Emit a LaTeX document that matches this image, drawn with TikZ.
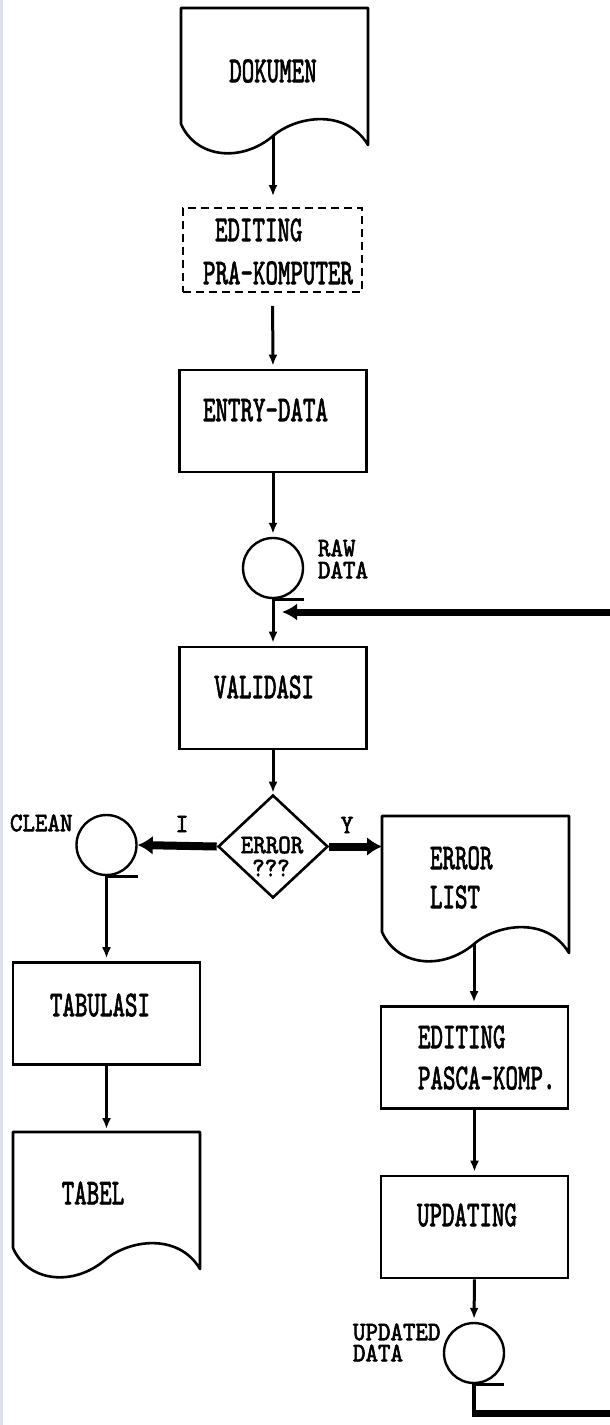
\documentclass[tikz,border=0pt]{standalone}
\usepackage{graphicx}
\usepackage{fontspec}
\usetikzlibrary{arrows.meta,shapes.geometric}
\newfontfamily\dotf{lmmono10-regular.otf}[FakeBold=2.5]
\newcommand{\BT}[1]{\scalebox{1}[1.52]{\dotf\fontsize{23.8}{26}\selectfont #1}}
\newcommand{\ST}[1]{\scalebox{1}[1.12]{\dotf\fontsize{23.8}{26}\selectfont #1}}
\definecolor{stripcol}{RGB}{220,224,242}
\tikzset{
  proc/.style={draw, line width=2.6pt, minimum width=187pt, minimum height=102pt, inner sep=0pt},
  dashbox/.style={draw, line width=1.8pt, dash pattern=on 8pt off 5pt, minimum width=179pt, minimum height=84pt, inner sep=0pt},
  store/.style={draw, circle, line width=2.4pt, minimum size=60pt, inner sep=0pt},
  decision/.style={draw, diamond, line width=2.6pt, minimum width=110pt, minimum height=103pt, inner sep=0pt},
  txt/.style={inner sep=0pt, outer sep=0pt},
  conn/.style={line width=3pt, -{Latex[length=11pt,width=9pt]}, shorten >=3pt},
  fatarrow/.style={line width=8pt, -{Latex[length=15pt,width=19pt]}},
  fbline/.style={line width=7pt},
  fbarrow/.style={line width=7pt, -{Latex[length=15pt,width=17pt]}},
  tick/.style={line width=2.6pt},
  docsym/.pic={
    \draw[line width=2.6pt, line join=round] (187,0) -- (0,0) -- (0,116)
      .. controls (15,150) and (60,155) .. (92,128)
      .. controls (115,108) and (165,100) .. (187,137) -- cycle;
    \coordinate (-out) at (92,128);
    \coordinate (-nw) at (0,0);
  }
}
\begin{document}
\begin{tikzpicture}[x=1pt,y=-1pt]
\useasboundingbox (0,0) rectangle (610,1425);
\fill[stripcol] (0,0) rectangle (3,1425);

% shapes
\pic (dk) at (181,8) {docsym};
\node[dashbox] (ed1) at (272.5,250) {};
\node[proc] (entry) at (273,421) {};
\node[store] (raw) at (273,568) {};
\node[proc] (val) at (273,698) {};
\node[decision] (dia) at (273,846.5) {};
\node[store] (clean) at (106.5,845) {};
\pic (el) at (382,816) {docsym};
\node[proc] (tab) at (106.5,1013.5) {};
\pic (tb) at (13,1132) {docsym};
\node[proc] (pk) at (474.5,1057.5) {};
\node[proc] (upd) at (474.5,1227) {};
\node[store] (ud) at (474,1353) {};

\coordinate (fbT) at (610,612);
\coordinate (fbB) at (610,1413);

% ticks of the tape symbols
\draw[tick] (raw.south) -- ++(31,0);
\draw[tick] (clean.south) -- ++(31,0);
\draw[tick] (ud.south) -- ++(30,0);

% texts
\node[txt] (tDok) at (273,71) {\BT{DOKUMEN}};
\node[txt,anchor=west] (tEd1) at (215,230) {\BT{EDITING}};
\node[txt,anchor=west] (tEd2) at (203,273) {\BT{PRA-KOMPUTER}};
\node[txt] (tEntry) at (265.5,410) {\BT{ENTRY-DATA}};
\node[txt,anchor=west] (tRaw1) at (318,548) {\ST{RAW}};
\node[txt,anchor=west] (tRaw2) at (318,570) {\ST{DATA}};
\node[txt] (tVal) at (264,687) {\BT{VALIDASI}};
\node[txt] (tErr1) at (272,845) {\ST{ERROR}};
\node[txt] (tErr2) at (271,868) {\ST{???}};
\node[txt] (lblI) at (182,824) {\ST{I}};
\node[txt] (lblY) at (347,825) {\ST{Y}};
\node[txt,anchor=west] (tClean) at (10,823) {\ST{CLEAN}};
\node[txt,anchor=west] (tEL1) at (430,858) {\BT{ERROR}};
\node[txt,anchor=west] (tEL2) at (430,897) {\BT{LIST}};
\node[txt] (tTab) at (100,1005) {\BT{TABULASI}};
\node[txt] (tTabel) at (93,1193) {\BT{TABEL}};
\node[txt,anchor=west] (tPk1) at (418,1037) {\BT{EDITING}};
\node[txt,anchor=west] (tPk2) at (418,1078) {\BT{PASCA-KOMP.}};
\node[txt] (tUpd) at (467,1215) {\BT{UPDATING}};
\node[txt,anchor=west] (tUd1) at (353,1332) {\ST{UPDATED}};
\node[txt,anchor=west] (tUd2) at (353,1353) {\ST{DATA}};

% connectors
\draw[conn, shorten >=11pt] (dk-out) -- (dk-out |- ed1.north);
\draw[conn, shorten <=13pt] (ed1.south) -- (entry.north);
\draw[conn] (entry.south) -- (raw.north);
\draw[conn] (raw.south) -- (val.north);
\draw[conn, shorten >=1pt] (val.south) -- (dia.north);
\draw[fatarrow] (dia.west) -- (clean.east);
\draw[fatarrow] (dia.east) -- (el-nw |- dia.east);
\draw[conn] (clean.south) -- (tab.north);
\draw[conn] (tab.south) -- (tab.south |- tb-nw);
\draw[conn] (el-out) -- (el-out |- pk.north);
\draw[conn] (pk.south) -- (upd.north);
\draw[conn] (upd.south) -- (ud.north);
\draw[line width=3.5pt] (ud.south) -- (ud.south |- fbB);
\draw[fbline] ([xshift=-1.75pt]ud.south |- fbB) -- (fbB);
\draw[fbarrow, shorten >=9pt] (fbT) -- (raw.south |- fbT);
\end{tikzpicture}
\end{document}
